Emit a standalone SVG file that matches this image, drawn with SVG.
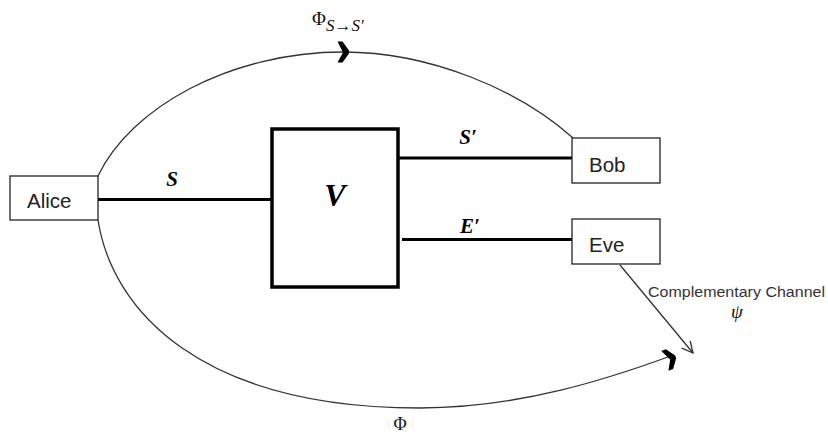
<svg xmlns="http://www.w3.org/2000/svg" xmlns:xlink="http://www.w3.org/1999/xlink" width="828" height="434" viewBox="0 0 828 434">
<style>
.box{fill:#fff;stroke:#222;stroke-width:1.3}
.vbox{fill:#fff;stroke:#000;stroke-width:3.5}
.wire{stroke:#000;stroke-width:3.2;fill:none}
.arc{stroke:#333;stroke-width:1.3;fill:none}
.lbl{font-family:"Liberation Sans",Arial,sans-serif;font-size:20.5px;fill:#222}
.math{font-family:"Liberation Serif","DejaVu Serif",serif;font-weight:bold;font-style:italic;fill:#000;text-anchor:middle}
.sym{font-family:"Liberation Serif","DejaVu Serif",serif;fill:#111}
.note{font-family:"Liberation Sans",Arial,sans-serif;font-size:15.5px;fill:#333}
</style>
<defs>
<path id="chev" d="M-5.5,-10.5 L-0.5,-10.5 L6,-1.5 L6,1.5 L-0.5,10.5 L-5.5,10.5 L0,0.5 Z" fill="#000"/>
<marker id="open" markerUnits="userSpaceOnUse" markerWidth="14" markerHeight="14" refX="12" refY="6" orient="auto">
<path d="M1,0.5 L12,6 L1,11.5" fill="none" stroke="#333" stroke-width="1.3"/>
</marker>
</defs>
<g id="connectors">
<line class="wire" x1="98" y1="199.5" x2="272" y2="199.5"/>
<line class="wire" x1="398" y1="158" x2="572" y2="158"/>
<line class="wire" x1="402" y1="239.5" x2="572" y2="239.5"/>
<path class="arc" d="M98,176 C130,108 230,52 343,52 C430,52 520,90 573,138"/>
<use xlink:href="#chev" transform="translate(343,52)"/>
<path class="arc" d="M98,220 C112,310 200,408 420,408 C520,408 610,378 668,357"/>
<use xlink:href="#chev" transform="translate(670,359) rotate(-20)"/>
<line x1="620" y1="265" x2="693" y2="353" stroke="#333" stroke-width="1.3" marker-end="url(#open)"/>
</g>
<g id="alice">
<rect class="box" x="10" y="176" width="88" height="44"/>
<text class="lbl" x="27" y="208">Alice</text>
</g>
<g id="V">
<rect class="vbox" x="272" y="129" width="126" height="158"/>
<text class="math" x="335" y="206" font-size="32">V</text>
</g>
<g id="bob">
<rect class="box" x="572" y="138" width="88" height="45"/>
<text class="lbl" x="589" y="172">Bob</text>
</g>
<g id="eve">
<rect class="box" x="572" y="219" width="88" height="45"/>
<text class="lbl" x="589" y="252">Eve</text>
</g>
<g id="labels">
<text class="math" x="172" y="186" font-size="21">S</text>
<text class="math" x="468" y="144" font-size="21">S′</text>
<text class="math" x="470" y="233" font-size="21">E′</text>
<text class="sym" x="312" y="25" font-size="19">Φ<tspan font-style="italic" font-size="17" dy="6">S→S′</tspan></text>
<text class="sym" x="400" y="430" font-size="18" text-anchor="middle">Φ</text>
<text class="note" x="648" y="297" textLength="177" lengthAdjust="spacingAndGlyphs">Complementary Channel</text>
<text class="sym" x="737" y="318" font-size="19" font-style="italic" text-anchor="middle">ψ</text>
</g>
</svg>
